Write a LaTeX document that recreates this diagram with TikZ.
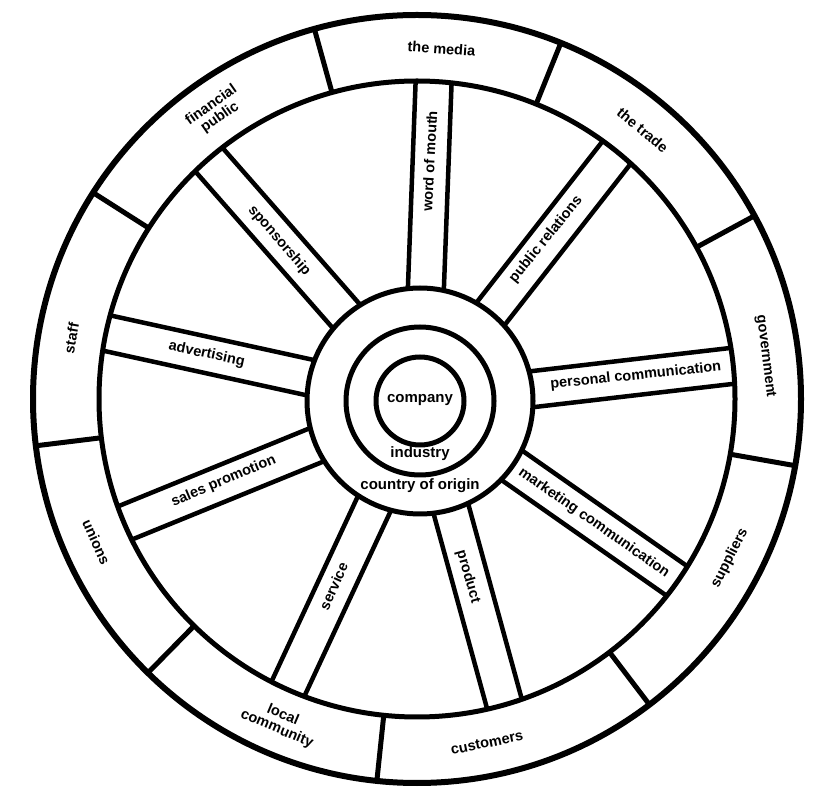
\documentclass[tikz,border=0pt]{standalone}
\usepackage{fontspec}
\setmainfont{Liberation Sans}
\usetikzlibrary{calc}
\tikzset{
  rimline/.style={line width=5pt, black},
  spokeline/.style={line width=4.5pt, black},
  spoketext/.style={font=\fontsize{14.5}{15}\selectfont\bfseries, inner sep=1pt, text=black},
  ringtext/.style={font=\fontsize{14.5}{15}\selectfont\bfseries, inner sep=1pt, align=center, text=black},
  hubtext/.style={font=\fontsize{15}{16}\selectfont\bfseries, inner sep=1pt, text=black}
}
\begin{document}
\begin{tikzpicture}[x=1pt,y=1pt]
\useasboundingbox (0,0) rectangle (830,790);
\fill[white] (0,0) rectangle (830,790);
\coordinate (C) at (417,391);
\coordinate (H) at (420,389);
% rings
\draw[rimline, line width=6pt] (C) circle (384);
\draw[rimline] (C) circle (318);
\draw[rimline] (H) circle (113);
\draw[rimline] (H) circle (74);
\draw[rimline] (H) circle (44);
% dividers of the outer ring
\foreach \a [count=\i] in {68,28.5,-10,-52.75,-96,-134.5,-173,147.5,105.5} {
  \coordinate (di\i) at ($(C)+(\a:318)$);
  \coordinate (do\i) at ($(C)+(\a:384)$);
  \draw[rimline] (di\i) -- (do\i);
}
% outer ring labels
\foreach \a/\t [count=\i] in {86/the media, 50/the trade, 7/government, -27/suppliers, -78.5/customers, -113/local\\community, -156/unions, 170/staff, 125/financial\\public} {
  \pgfmathsetmacro\orot{sin(\a) >= -0.2 ? \a-90 : \a+90}
  \node[ringtext, rotate=\orot] (o\i) at ($(C)+(\a:351)$) {\t};
}
% spokes
\foreach \a/\t/\r [count=\i] in {87/word of mouth/238, 51/public relations/205, 6/personal communication/220, -35/marketing communication/216, -74/product/185, -114/service/205, -157/sales promotion/210, 168/advertising/215, 131/sponsorship/210} {
  \coordinate (sa\i) at ($(H)+(\a:111.6)+(\a+90:18)$);
  \coordinate (sb\i) at ($(C)+(\a:317.5)+(\a+90:18)$);
  \coordinate (sc\i) at ($(H)+(\a:111.6)+(\a-90:18)$);
  \coordinate (sd\i) at ($(C)+(\a:317.5)+(\a-90:18)$);
  \draw[spokeline] (sa\i) -- (sb\i);
  \draw[spokeline] (sc\i) -- (sd\i);
  \pgfmathsetmacro\srot{cos(\a) >= 0 ? \a : \a-180}
  \node[spoketext, rotate=\srot] (s\i) at ($(C)+(\a:\r)$) {\t};
}
% hub labels
\node[hubtext] (company) at ($(H)+(0,1)$) {company};
\node[hubtext] (industry) at ($(H)+(0,-53)$) {industry};
\node[hubtext] (origin) at ($(H)+(0,-85)$) {country of origin};
\end{tikzpicture}
\end{document}
